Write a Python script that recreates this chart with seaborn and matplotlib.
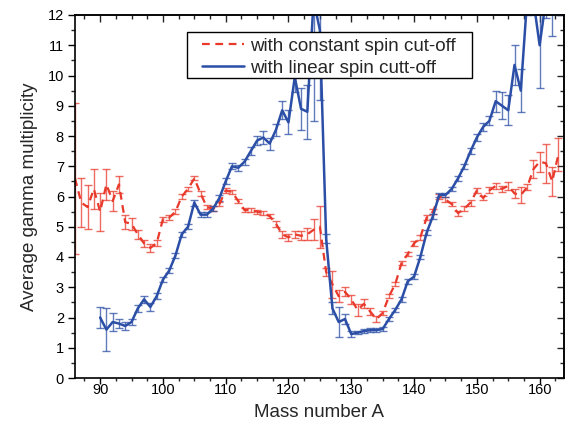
import numpy as np
import pandas as pd
import matplotlib
matplotlib.use("Agg")
import matplotlib.pyplot as plt
import seaborn as sns
from matplotlib.ticker import MultipleLocator
from matplotlib.patches import Rectangle

# ---- data ----
mass_const = list(range(86, 164))
const_vals = [6.6, 5.8, 5.65, 6.25, 5.5, 6.4, 5.85, 6.4, 5.15, 5.1,
              4.75, 4.45, 4.3, 4.45, 5.25, 5.3, 5.5, 6.0, 6.25, 6.6,
              6.1, 5.65, 5.6, 5.75, 6.2, 6.15, 5.85, 5.55, 5.55, 5.5,
              5.45, 5.35, 5.1, 4.75, 4.65, 4.75, 4.7, 4.75, 4.9, 5.0,
              3.5, 3.1, 2.7, 2.85, 2.6, 2.25, 2.45, 2.2, 1.95, 2.15,
              2.7, 3.1, 3.8, 4.1, 4.45, 4.65, 5.3, 5.5, 6.0, 5.9,
              5.75, 5.45, 5.6, 5.8, 6.2, 5.95, 6.2, 6.35, 6.25, 6.35,
              6.1, 6.05, 6.3, 6.9, 7.15, 7.1, 6.5, 7.4]
const_err = [2.5, 0.8, 0.72, 0.67, 0.63, 0.5, 0.33, 0.27, 0.24, 0.2,
             0.15, 0.12, 0.12, 0.1, 0.08, 0.08, 0.08, 0.07, 0.08, 0.07,
             0.07, 0.07, 0.07, 0.07, 0.07, 0.07, 0.07, 0.07, 0.07, 0.07,
             0.07, 0.07, 0.1, 0.12, 0.12, 0.12, 0.15, 0.2, 0.35, 0.7,
             0.12, 0.45, 0.2, 0.15, 0.15, 0.2, 0.15, 0.12, 0.1, 0.08,
             0.07, 0.07, 0.07, 0.07, 0.07, 0.08, 0.08, 0.08, 0.08, 0.08,
             0.08, 0.08, 0.08, 0.1, 0.08, 0.08, 0.1, 0.1, 0.1, 0.12,
             0.15, 0.25, 0.1, 0.3, 0.33, 0.65, 0.47, 0.55]

mass_lin = list(range(90, 164))
lin_vals = [2.0, 1.6, 1.85, 1.8, 1.72, 1.85, 2.3, 2.6, 2.35, 2.7,
            3.25, 3.55, 4.05, 4.75, 5.0, 5.8, 5.4, 5.4, 5.6, 5.95,
            6.5, 7.0, 6.95, 7.15, 7.5, 7.85, 7.95, 7.75, 8.2, 8.85,
            8.45, 9.95, 8.9, 8.8, 12.5, 11.5, 4.6, 2.3, 1.85, 1.95,
            1.45, 1.5, 1.55, 1.58, 1.58, 1.62, 1.95, 2.25, 2.6, 3.2,
            3.35, 4.0, 4.8, 5.35, 6.05, 6.05, 6.25, 6.6, 7.0, 7.5,
            7.95, 8.3, 8.5, 9.15, 9.0, 8.85, 10.35, 9.5, 12.5, 12.5,
            11.0, 12.5, 12.2, 12.5]
lin_err = [0.35, 0.7, 0.3, 0.15, 0.12, 0.1, 0.12, 0.12, 0.12, 0.1,
           0.08, 0.08, 0.08, 0.08, 0.08, 0.1, 0.08, 0.08, 0.08, 0.1,
           0.1, 0.1, 0.1, 0.1, 0.12, 0.15, 0.2, 0.2, 0.2, 0.3,
           0.4, 0.5, 0.7, 0.9, 4.0, 2.3, 0.15, 0.2, 0.5, 0.15,
           0.1, 0.06, 0.06, 0.06, 0.06, 0.06, 0.08, 0.08, 0.08, 0.08,
           0.08, 0.08, 0.08, 0.08, 0.08, 0.08, 0.08, 0.08, 0.08, 0.1,
           0.1, 0.12, 0.15, 0.35, 0.45, 0.5, 0.65, 0.7, 0.5, 0.5,
           1.4, 0.6, 0.9, 0.5]

label_const = "with constant spin cut-off"
label_lin = "with linear spin cutt-off"

RED = "#e8392b"
BLUE = "#2b4ea6"

sns.set_theme(style="ticks")
plt.rcParams["font.family"] = ["Liberation Sans", "DejaVu Sans"]

fig = plt.figure(figsize=(5.65, 4.37), dpi=100)
ax = fig.add_axes([75 / 565, 1 - 378 / 437, 488.5 / 565, 363 / 437])

df_c = pd.DataFrame({"A": mass_const, "M": const_vals})
df_l = pd.DataFrame({"A": mass_lin, "M": lin_vals})

ax.errorbar(mass_const, const_vals, yerr=const_err, fmt="none",
            ecolor=RED, elinewidth=1.0, capsize=3, capthick=1.0, alpha=0.75)
ax.errorbar(mass_lin, lin_vals, yerr=lin_err, fmt="none",
            ecolor=BLUE, elinewidth=1.0, capsize=3, capthick=1.0, alpha=0.75)

sns.lineplot(data=df_c, x="A", y="M", ax=ax, color=RED, lw=1.6,
             linestyle=(0, (3.5, 2.5)), label=label_const)
sns.lineplot(data=df_l, x="A", y="M", ax=ax, color=BLUE, lw=1.8,
             label=label_lin)

ax.set_xlim(86, 163.8)
ax.set_ylim(0, 12)
ax.xaxis.set_major_locator(MultipleLocator(10))
ax.xaxis.set_minor_locator(MultipleLocator(2.5))
ax.yaxis.set_major_locator(MultipleLocator(1))
ax.yaxis.set_minor_locator(MultipleLocator(0.5))
ax.tick_params(which="major", direction="out", length=5, width=1.0,
               labelsize=10.5, colors="black", pad=3)
ax.tick_params(which="minor", direction="out", length=2.8, width=1.0)
ax.tick_params(axis="x", which="major", length=4, pad=-0.5)
ax.tick_params(axis="x", which="minor", length=2.5)

for s in ax.spines.values():
    s.set_linewidth(1.2)
    s.set_color("black")

# mirrored ticks on top/right pointing inward
top = ax.secondary_xaxis("top")
top.xaxis.set_major_locator(MultipleLocator(10))
top.xaxis.set_minor_locator(MultipleLocator(2.5))
top.tick_params(which="major", direction="in", length=5, width=1.0, labeltop=False)
top.tick_params(which="minor", direction="in", length=3, width=1.0)
top.spines["top"].set_linewidth(1.2)
right = ax.secondary_yaxis("right")
right.yaxis.set_major_locator(MultipleLocator(1))
right.yaxis.set_minor_locator(MultipleLocator(0.5))
right.tick_params(which="major", direction="in", length=5, width=1.0, labelright=False)
right.tick_params(which="minor", direction="in", length=3, width=1.0)
right.spines["right"].set_linewidth(1.2)

ax.set_xlabel("Mass number A", fontsize=13.5, labelpad=5)
ax.set_ylabel("Average gamma multiplicity", fontsize=13.5, labelpad=6.5)

# legend frame (Origin style, asymmetric padding)
ax.add_patch(Rectangle((0.2287, 0.8256), 0.584, 0.1267, transform=ax.transAxes,
                       facecolor="white", edgecolor="black", lw=1.0, zorder=4))
leg = ax.legend(loc="upper left", bbox_to_anchor=(0.2594, 0.938), fontsize=13.5,
                frameon=False, handlelength=2.24, borderpad=0, labelspacing=0.28,
                handletextpad=0.36, borderaxespad=0)
leg.set_zorder(5)

fig.savefig("out.png", dpi=100)
